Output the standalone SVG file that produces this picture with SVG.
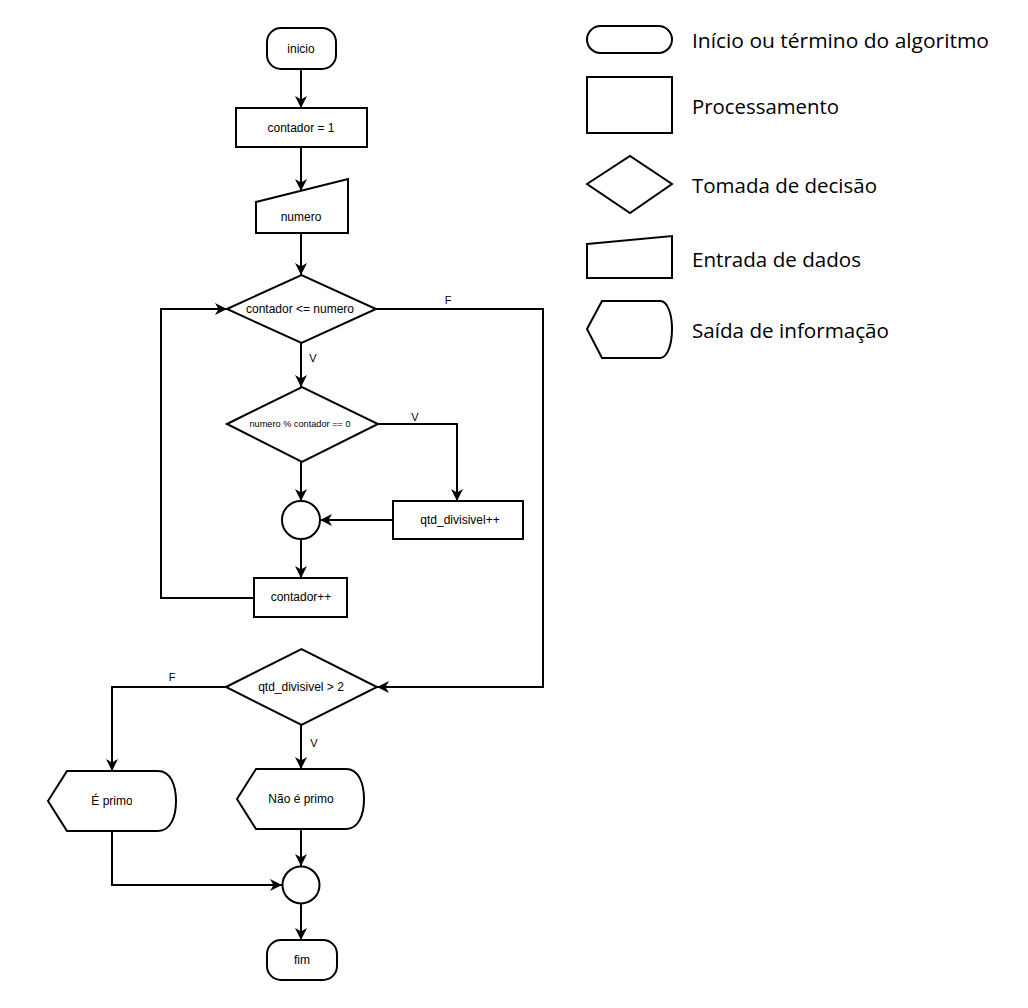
<svg xmlns="http://www.w3.org/2000/svg" width="1028" height="1008" viewBox="0 0 1028 1008">
<style>
.s{fill:#fff;stroke:#000;stroke-width:2}
.c{fill:none;stroke:#000;stroke-width:2}
.t{font-family:"Liberation Sans",Arial,sans-serif;font-size:12px;fill:#000;text-anchor:middle}
.l{font-family:"Liberation Sans",Arial,sans-serif;font-size:11px;fill:#000;text-anchor:middle}
.g{font-family:"Open Sans","Noto Sans",sans-serif;font-size:20px;fill:#000}
</style>
<defs>
<marker id="a" markerUnits="userSpaceOnUse" markerWidth="14" markerHeight="14" refX="12" refY="6.5" orient="auto">
<path d="M0,0.5 L12,6.5 L0,12.5 L3.5,6.5 Z" fill="#000"/>
</marker>
<clipPath id="cp"><rect x="40" y="780" width="92" height="40"/></clipPath>
</defs>
<rect width="1028" height="1008" fill="#fff"/>
<g id="connectors" class="c" marker-end="url(#a)">
<path d="M301,69 L301,108"/>
<path d="M301,147 L301,191"/>
<path d="M301,233 L301,275"/>
<path d="M376,309 L543,309 L543,687 L377,687"/>
<path d="M301,343 L301,387"/>
<path d="M378,424 L457,424 L457,501"/>
<path d="M301,462 L301,501"/>
<path d="M393,520 L320,520"/>
<path d="M301,539 L301,578"/>
<path d="M254,598 L161,598 L161,309 L227,309"/>
<path d="M226,687 L112,687 L112,771"/>
<path d="M301,725 L301,769"/>
<path d="M112,831 L112,885 L282,885"/>
<path d="M301,829 L301,866"/>
<path d="M301,904 L301,940"/>
</g>
<g id="edge-labels">
<text class="l" x="448" y="304">F</text>
<text class="l" x="313" y="362">V</text>
<text class="l" x="415" y="421">V</text>
<text class="l" x="172" y="681">F</text>
<text class="l" x="314" y="747">V</text>
</g>
<g id="inicio"><rect class="s" x="267" y="28" width="69" height="41" rx="14"/><text class="t" x="301" y="53">inicio</text></g>
<g id="contador1"><rect class="s" x="236" y="108" width="131" height="39"/><text class="t" x="301" y="132">contador = 1</text></g>
<g id="numero"><polygon class="s" points="256,202 348,179 348,233 256,233"/><text class="t" x="301" y="221">numero</text></g>
<g id="dec1"><polygon class="s" points="227,309 301.5,275 376,309 301.5,343"/><text class="t" x="300" y="313">contador &lt;= numero</text></g>
<g id="dec2"><polygon class="s" points="227,424 302,387 378,424 302,462"/><text class="t" x="300" y="427" style="font-size:9.2px">numero % contador == 0</text></g>
<g id="merge1"><circle class="s" cx="301" cy="520" r="19"/></g>
<g id="qtd"><rect class="s" x="393" y="501" width="130" height="38"/><text class="t" x="460" y="524">qtd_divisivel++</text></g>
<g id="contadorpp"><rect class="s" x="254" y="578" width="93" height="39"/><text class="t" x="301" y="601">contador++</text></g>
<g id="dec3"><polygon class="s" points="226,687 301.5,649 377,687 301.5,725"/><text class="t" x="301" y="691">qtd_divisivel &gt; 2</text></g>
<g id="eprimo"><path class="s" d="M48,801 L67,771 L158,771 C171,771 176,786 176,801 C176,816 171,831 158,831 L67,831 Z"/><text class="t" x="112" y="805" clip-path="url(#cp)">É primo</text></g>
<g id="naoprimo"><path class="s" d="M237,799 L256,769 L346,769 C359,769 364,784 364,799 C364,814 359,829 346,829 L256,829 Z"/><text class="t" x="301" y="803">Não é primo</text></g>
<g id="merge2"><circle class="s" cx="301" cy="885" r="18.5"/></g>
<g id="fim"><rect class="s" x="267" y="940" width="70" height="40" rx="14"/><text class="t" x="302" y="964">fim</text></g>
<g id="legend">
<rect class="s" x="587" y="26" width="85" height="27" rx="13.5"/>
<text class="g" x="692" y="48" textLength="297" lengthAdjust="spacingAndGlyphs">Início ou término do algoritmo</text>
<rect class="s" x="587" y="77" width="85" height="56"/>
<text class="g" x="692" y="114" textLength="147" lengthAdjust="spacingAndGlyphs">Processamento</text>
<polygon class="s" points="587,184 630,156 672,184 630,213"/>
<text class="g" x="692" y="193" textLength="185" lengthAdjust="spacingAndGlyphs">Tomada de decisão</text>
<polygon class="s" points="587,244 672,236 672,278 587,278"/>
<text class="g" x="692" y="267" textLength="169" lengthAdjust="spacingAndGlyphs">Entrada de dados</text>
<path class="s" d="M587,329 L602,301 L660,301 C668,301 672,315 672,329 C672,343 668,358 660,358 L602,358 Z"/>
<text class="g" x="692" y="338" textLength="197" lengthAdjust="spacingAndGlyphs">Saída de informação</text>
</g>
</svg>
